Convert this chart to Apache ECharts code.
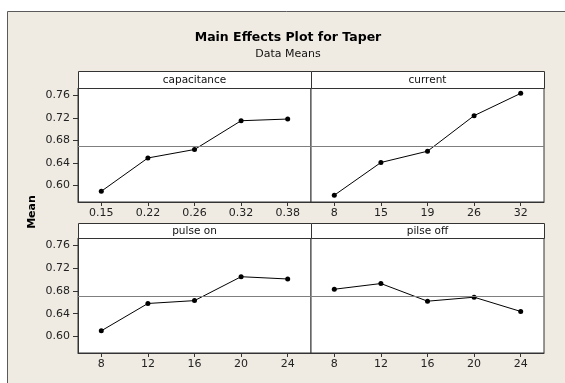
<!DOCTYPE html>
<html><head><meta charset="utf-8">
<script src="https://cdn.jsdelivr.net/npm/echarts@6/dist/echarts.min.js"></script>
<style>html,body{margin:0;padding:0;background:#fff}#c{width:565px;height:383px}</style>
</head><body><div id="c"></div>
<script>
const capacitanceCats = ['0.15', '0.22', '0.26', '0.32', '0.38'];
const capacitanceMeans = [0.590, 0.649, 0.664, 0.715, 0.718];
const currentCats = ['8', '15', '19', '26', '32'];
const currentMeans = [0.583, 0.641, 0.661, 0.724, 0.7635];
const pulseOnCats = ['8', '12', '16', '20', '24'];
const pulseOnMeans = [0.610, 0.658, 0.663, 0.705, 0.701];
const pulseOffCats = ['8', '12', '16', '20', '24'];
const pulseOffMeans = [0.683, 0.693, 0.662, 0.669, 0.644];
const panelNames = ['capacitance', 'current', 'pulse on', 'pilse off'];
const yTicks = [0.60, 0.64, 0.68, 0.72, 0.76];
const grandMean = 0.672;

const FONT = 'DejaVu Sans';
const cats = [capacitanceCats, currentCats, pulseOnCats, pulseOffCats];
const vals = [capacitanceMeans, currentMeans, pulseOnMeans, pulseOffMeans];
const panels = [
  {left: 78, top: 88, width: 233, height: 114, stripTop: 71},
  {left: 311, top: 88, width: 233, height: 114, stripTop: 71},
  {left: 78, top: 238, width: 233, height: 115, stripTop: 223},
  {left: 311, top: 238, width: 233, height: 115, stripTop: 223}
];

const grids = panels.map(p => ({
  left: p.left, top: p.top, width: p.width, height: p.height,
  show: true, backgroundColor: '#ffffff', borderColor: '#333333', borderWidth: 1
}));
const xAxes = panels.map((p, i) => ({
  type: 'category', gridIndex: i, data: cats[i], boundaryGap: true,
  axisLine: {show: true, lineStyle: {color: '#333333', width: 1}},
  axisTick: {show: true, alignWithLabel: true, length: 4, lineStyle: {color: '#333333'}},
  axisLabel: {show: true, color: '#222222', fontFamily: FONT, fontSize: 11, margin: 6},
  splitLine: {show: false}
}));
const yAxes = panels.map((p, i) => ({
  type: 'value', gridIndex: i, min: 0.571, max: 0.773,
  axisLine: {show: i % 2 === 0, lineStyle: {color: '#333333', width: 1}},
  axisTick: {show: i % 2 === 0, length: 5, customValues: yTicks, lineStyle: {color: '#333333'}},
  axisLabel: {show: i % 2 === 0, customValues: yTicks, color: '#222222', fontFamily: FONT, fontSize: 11, margin: 8,
    formatter: v => v.toFixed(2)},
  splitLine: {show: false}
}));
const series = panels.map((p, i) => ({
  type: 'line', xAxisIndex: i, yAxisIndex: i, data: vals[i],
  symbol: 'circle', symbolSize: 5, showSymbol: true,
  itemStyle: {color: '#000000'}, lineStyle: {color: '#000000', width: 1},
  emphasis: {disabled: true}, silent: true, animation: false,
  markLine: {silent: true, symbol: 'none', label: {show: false},
    lineStyle: {color: '#7f7f7f', type: 'solid', width: 1},
    data: [{yAxis: grandMean}]}
}));

const graphics = [
  {type: 'rect', z: -10, shape: {x: 7.5, y: 11.5, width: 700, height: 500},
    style: {fill: '#EFEBE2', stroke: '#5a5a5a', lineWidth: 1}, silent: true},
  {type: 'text', x: 288, y: 38, style: {text: 'Main Effects Plot for Taper', fontFamily: FONT, fontWeight: 'bold', fontSize: 12.5, fill: '#000', align: 'center', verticalAlign: 'middle'}},
  {type: 'text', x: 288, y: 54.5, style: {text: 'Data Means', fontFamily: FONT, fontSize: 11, fill: '#111', align: 'center', verticalAlign: 'middle'}},
  {type: 'text', x: 32, y: 212, rotation: Math.PI / 2, style: {text: 'Mean', fontFamily: FONT, fontWeight: 'bold', fontSize: 11, fill: '#000', align: 'center', verticalAlign: 'middle'}}
];
panels.forEach((p, i) => {
  const h = p.top - p.stripTop;
  graphics.push({type: 'rect', shape: {x: p.left + 0.5, y: p.stripTop + 0.5, width: p.width, height: h},
    style: {fill: '#ffffff', stroke: '#333333', lineWidth: 1}, silent: true});
  graphics.push({type: 'text', x: p.left + p.width / 2, y: p.stripTop + h / 2 + 0.5,
    style: {text: panelNames[i], fontFamily: FONT, fontSize: 10.5, fill: '#111', align: 'center', verticalAlign: 'middle'}});
});

const chart = echarts.init(document.getElementById('c'), null, {renderer: 'canvas'});
chart.setOption({
  animation: false,
  backgroundColor: '#ffffff',
  grid: grids, xAxis: xAxes, yAxis: yAxes, series: series, graphic: graphics
});
</script></body></html>
